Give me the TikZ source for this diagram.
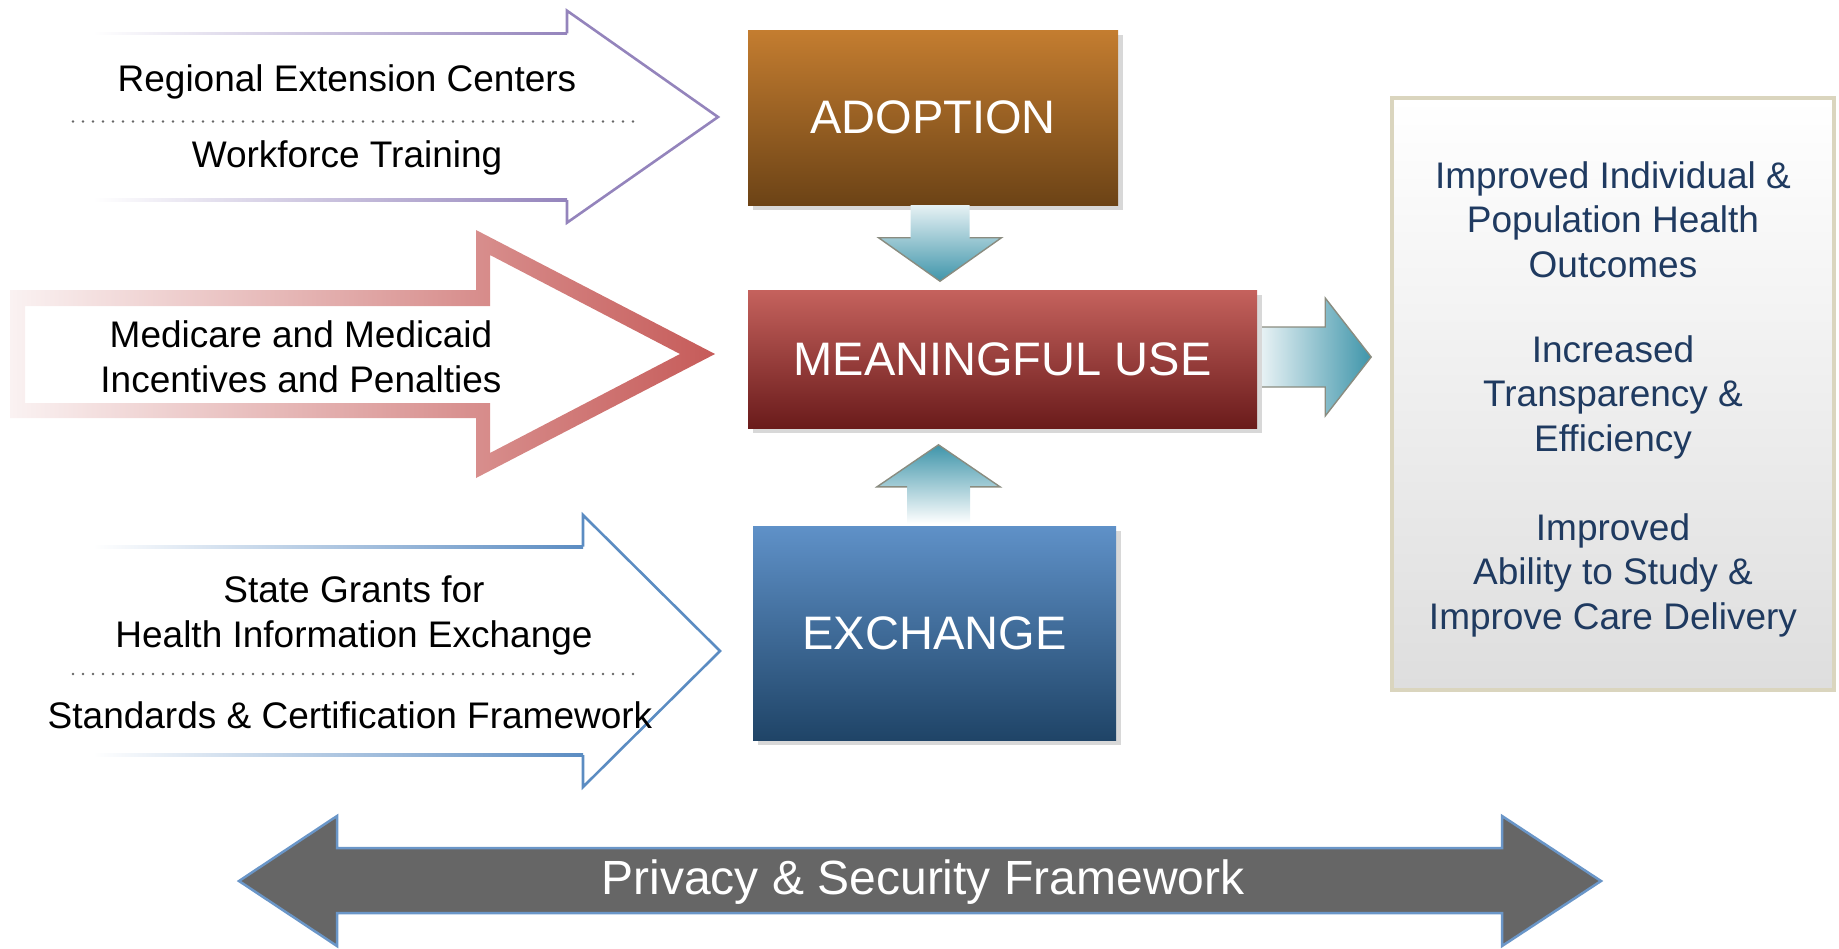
\documentclass[tikz,border=0pt]{standalone}
\usepackage{fontspec}
\setmainfont{Liberation Sans}
\usepackage{xcolor}
\usepackage{tikz}
\usetikzlibrary{calc,shadows,positioning}
\definecolor{lavender}{HTML}{9484BC}
\definecolor{steel}{HTML}{5B8CC2}
\definecolor{redL}{HTML}{FAF2F2}
\definecolor{redM}{HTML}{E4B6B5}
\definecolor{redR}{HTML}{C65B59}
\definecolor{adoptTop}{HTML}{C47D30}
\definecolor{adoptBot}{HTML}{6C4316}
\definecolor{muTop}{HTML}{C5625D}
\definecolor{muBot}{HTML}{6A1B1B}
\definecolor{exTop}{HTML}{5F91C8}
\definecolor{exBot}{HTML}{1F4467}
\definecolor{tealL}{HTML}{E6F1F4}
\definecolor{tealD}{HTML}{3F95AA}
\definecolor{tealEdge}{HTML}{8A8C80}
\definecolor{navy}{HTML}{1F3A60}
\definecolor{beige}{HTML}{DAD5BE}
\definecolor{bandEdge}{HTML}{6A96C8}
\newcommand{\LabelFont}{\fontsize{37}{44.5}\selectfont}
\newcommand{\StageFont}{\fontsize{47}{56}\selectfont}
\tikzset{
  StageBox/.style={
    draw=none, text=white, font=\StageFont,
    drop shadow={shadow xshift=5pt, shadow yshift=-5pt, fill=black!30, opacity=0.5}
  },
  LeftLabel/.style={font=\LabelFont, align=center, inner sep=0pt},
  GoalLabel/.style={font=\LabelFont, align=center, inner sep=0pt, text=navy},
  FeedLine/.style={draw=#1, line width=2.6pt},
  SepLine/.style={draw=black!60, line width=2.6pt, line cap=round, dash pattern=on 0pt off 10pt},
  TealEdge/.style={draw=tealEdge, line width=1.4pt}
}

\begin{document}
\begin{tikzpicture}[x=1pt, y=-1pt, line join=miter]
  \useasboundingbox (0,0) rectangle (1839,948);

  % purple feed arrow
  \shade[left color=white, middle color=lavender, right color=lavender] (93,32) rectangle (567,34.6);
  \shade[left color=white, middle color=lavender, right color=lavender] (93,198.7) rectangle (567,201.3);
  \draw[FeedLine=lavender] (567,33.3) -- (567,10.7) -- (718,117) -- (567,222.7) -- (567,200);
  \node[LeftLabel] (rec) at (347,82) {Regional Extension Centers};
  \node[LeftLabel] (wft) at (347,158) {Workforce Training};
  \draw[SepLine] (73,121.5) -- (642,121.5);

  % red feed arrow, thick outline
  \shade[left color=redL, middle color=redM, right color=redR, even odd rule]
    (10,290) -- (476,290) -- (476,230) -- (715,354) -- (476,478) -- (476,418) -- (10,418) -- cycle
    (25,306) -- (490,306) -- (490,255) -- (680,354) -- (490,453) -- (490,403) -- (25,403) -- cycle;
  \node[LeftLabel] (mmi) at (301,357) {Medicare and Medicaid\\Incentives and Penalties};

  % blue feed arrow
  \shade[left color=white, middle color=steel, right color=steel] (93,545.4) rectangle (583,548);
  \shade[left color=white, middle color=steel, right color=steel] (93,753.7) rectangle (583,756.3);
  \draw[FeedLine=steel] (583,546.7) -- (583,515) -- (720,651) -- (583,787) -- (583,755);
  \node[LeftLabel] (sg) at (354,615.5) {State Grants for\\Health Information Exchange};
  \node[LeftLabel] (scf) at (350,715) {Standards \& Certification Framework};
  \draw[SepLine] (73,674) -- (642,674);

  % stage boxes
  \node[StageBox, top color=adoptTop, bottom color=adoptBot,
        minimum width=370pt, minimum height=175pt] (adopt) at (933,117.5) {ADOPTION};
  \node[StageBox, top color=muTop, bottom color=muBot,
        minimum width=509pt, minimum height=138pt] (mu) at (1002.5,359) {MEANINGFUL USE};
  \node[StageBox, top color=exTop, bottom color=exBot,
        minimum width=363pt, minimum height=214pt] (exch) at (934.5,633) {EXCHANGE};

  % adoption -> meaningful use
  \shade[top color=tealL, bottom color=tealD]
    ($(adopt.south)+(-22.5,0)$) -- ++(59,0) -- ++(0,32.5) -- ++(32,0)
    -- ++(-61.5,43.5) -- ++(-61.5,-43.5) -- ++(32,0) -- cycle;
  \draw[TealEdge] ($(adopt.south)+(-22.5,32.5)$) -- ++(-32,0) -- ++(61.5,43.5) -- ++(61.5,-43.5) -- ++(-32,0);

  % exchange -> meaningful use
  \shade[top color=tealD, bottom color=white]
    ($(exch.north)+(-27.5,-2)$) -- ++(0,-37) -- ++(-30,0) -- ++(61.5,-42)
    -- ++(61.5,42) -- ++(-30,0) -- ++(0,37) -- cycle;
  \draw[TealEdge] ($(exch.north)+(-27.5,-39)$) -- ++(-30,0) -- ++(61.5,-42) -- ++(61.5,42) -- ++(-30,0);

  % meaningful use -> outcomes
  \shade[left color=tealL, right color=tealD]
    ($(mu.east)+(5,-32)$) -- ++(63,0) -- ++(0,-29) -- ++(46,59)
    -- ++(-46,59) -- ++(0,-29) -- ++(-63,0) -- cycle;
  \draw[TealEdge] ($(mu.east)+(5,-32)$) -- ++(63,0) -- ++(0,-29) -- ++(46,59)
    -- ++(-46,59) -- ++(0,-29) -- ++(-63,0);

  % outcomes panel
  \node[draw=beige, line width=4pt, top color=white, bottom color=black!13,
        minimum width=442pt, minimum height=592pt] (goals) at (1613,394) {};
  \node[GoalLabel] (g1) at (1613,219.5) {Improved Individual \&\\Population Health\\Outcomes};
  \node[GoalLabel] (g2) at (1613,397) {Increased\\Transparency \&\\Efficiency};
  \node[GoalLabel] (g3) at (1613,575) {Improved\\Ability to Study \&\\Improve Care Delivery};

  % privacy band, double arrow
  \shade[left color=black!60, middle color=black!72, right color=black!60]
    (239,881) -- (337,816) -- (337,848) -- (1502,848) -- (1502,816) -- (1601,881)
    -- (1502,946) -- (1502,913) -- (337,913) -- (337,946) -- cycle;
  \draw[bandEdge, line width=2.5pt]
    (239,881) -- (337,816) -- (337,848) -- (1502,848) -- (1502,816) -- (1601,881)
    -- (1502,946) -- (1502,913) -- (337,913) -- (337,946) -- cycle;
  \node[font=\fontsize{48}{56}\selectfont, text=white, inner sep=0pt] (psf) at (923,882) {Privacy \& Security Framework};
\end{tikzpicture}
\end{document}
